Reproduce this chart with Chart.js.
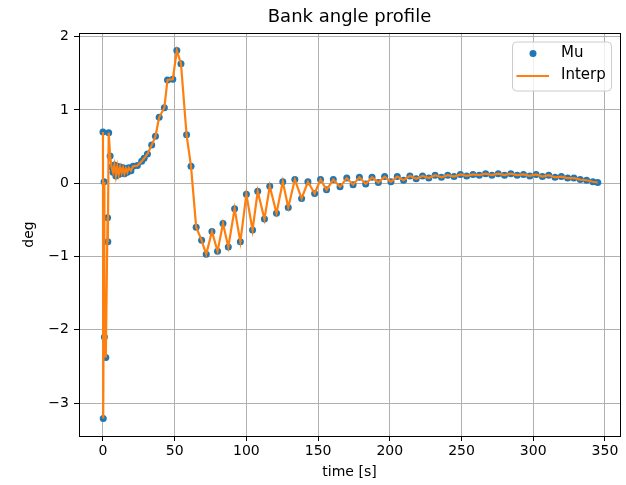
<!DOCTYPE html>
<html><head><meta charset="utf-8">
<script src="https://cdn.jsdelivr.net/npm/chart.js@4/dist/chart.umd.min.js"></script>
<style>html,body{margin:0;padding:0;background:#fff}canvas{display:block}</style>
</head><body>
<canvas id="c" width="626" height="485"></canvas>
<script>
const timeS = [0, 0.2, 0.8, 1.0, 2.0, 3.2, 3.4, 4.0, 5.0, 6, 7, 8, 9, 10, 11, 12, 13, 14, 15, 16, 17, 18, 19.5, 21, 24, 27, 28.7, 31, 34, 36.6, 39.2, 42.8, 45, 48.7, 51.5, 54.4, 58.3, 61.4, 65, 68.8, 72, 76, 79.9, 83.7, 87.4, 91.8, 95.8, 100, 104.3, 107.9, 112.6, 116.3, 121, 125.4, 129.2, 133.8, 138.5, 142.9, 147.6, 151.7, 155.9, 160.6, 165.3, 170, 174.4, 178.8, 183.2, 187.6, 192, 196.4, 200.8, 205.2, 209.6, 214, 218.4, 222.8, 227.2, 231.6, 236, 240.4, 244.8, 249.2, 253.6, 258, 262.4, 266.8, 271.2, 275.6, 280, 284.4, 288.8, 293.2, 297.6, 302, 306.4, 310.8, 315.2, 319.6, 324, 328.4, 332.8, 337.2, 341.6, 345];
const muDeg = [0.70, -3.21, 0.02, -2.10, -2.38, -0.47, -0.80, 0.69, 0.37, 0.22, 0.15, 0.25, 0.10, 0.23, 0.12, 0.22, 0.14, 0.21, 0.13, 0.20, 0.15, 0.21, 0.17, 0.23, 0.24, 0.30, 0.34, 0.40, 0.52, 0.64, 0.90, 1.03, 1.41, 1.42, 1.81, 1.63, 0.66, 0.23, -0.60, -0.78, -0.97, -0.66, -0.93, -0.55, -0.87, -0.35, -0.80, -0.15, -0.64, -0.11, -0.49, -0.04, -0.41, 0.02, -0.33, 0.05, -0.21, 0.02, -0.14, 0.05, -0.09, 0.05, -0.05, 0.07, -0.02, 0.08, -0.01, 0.08, 0.01, 0.09, 0.02, 0.09, 0.04, 0.10, 0.06, 0.10, 0.07, 0.11, 0.08, 0.11, 0.09, 0.12, 0.10, 0.12, 0.11, 0.13, 0.11, 0.13, 0.11, 0.13, 0.11, 0.12, 0.10, 0.12, 0.09, 0.11, 0.08, 0.09, 0.07, 0.07, 0.05, 0.04, 0.02, 0.01];
const xTicks = [0, 50, 100, 150, 200, 250, 300, 350];
const yTicks = [-3, -2, -1, 0, 1, 2];
const seriesNames = ['Mu', 'Interp'];
const titleText = 'Bank angle profile';
const xLabel = 'time [s]';
const yLabel = 'deg';

const FONT = 'DejaVu Sans';
const BLUE = '#1f77b4', ORANGE = '#ff7f0e';
const pts = timeS.map((t, i) => ({x: t, y: muDeg[i]}));
const fmt = v => String(v).replace('-', '\u2212');

const decor = {
  id: 'decor',
  afterDatasetsDraw(chart) {
    const {ctx, chartArea: a} = chart;
    ctx.save();
    ctx.strokeStyle = '#000'; ctx.lineWidth = 1;
    ctx.strokeRect(Math.round(a.left) + 0.5, Math.round(a.top) + 0.5, Math.round(a.right - a.left), Math.round(a.bottom - a.top));
    // title
    ctx.fillStyle = '#000';
    ctx.font = '18px "' + FONT + '"';
    ctx.textAlign = 'center'; ctx.textBaseline = 'middle';
    ctx.fillText(titleText, (a.left + a.right) / 2, 17);
    // legend
    const bx = a.right - 108, by = a.top + 8.5, bw = 99, bh = 49;
    ctx.beginPath();
    ctx.roundRect(bx + 0.5, by + 0.5, bw, bh, 4);
    ctx.fillStyle = 'rgba(255,255,255,0.8)'; ctx.fill();
    ctx.strokeStyle = '#cccccc'; ctx.stroke();
    ctx.fillStyle = BLUE;
    ctx.beginPath(); ctx.arc(bx + 21, by + 12, 3.5, 0, Math.PI * 2); ctx.fill();
    ctx.strokeStyle = ORANGE; ctx.lineWidth = 2;
    ctx.beginPath(); ctx.moveTo(bx + 4.5, by + 34.5); ctx.lineTo(bx + 37, by + 34.5); ctx.stroke();
    ctx.fillStyle = '#000';
    ctx.font = '15px "' + FONT + '"';
    ctx.textAlign = 'left'; ctx.textBaseline = 'middle';
    ctx.fillText(seriesNames[0], bx + 49, by + 12);
    ctx.fillText(seriesNames[1], bx + 49, by + 34);
    ctx.restore();
  }
};

const tickFont = {family: FONT, size: 14};
new Chart(document.getElementById('c'), {
  type: 'scatter',
  data: {
    datasets: [
      {label: seriesNames[0], data: pts, showLine: false, pointRadius: 3.5, pointBackgroundColor: BLUE, pointBorderWidth: 0, order: 2},
      {label: seriesNames[1], data: pts, showLine: true, borderColor: ORANGE, borderWidth: 2.2, pointRadius: 0, tension: 0, order: 1}
    ]
  },
  options: {
    responsive: false, animation: false, devicePixelRatio: 1,
    layout: {padding: {left: 0, top: 33, right: 6, bottom: 0}},
    plugins: {legend: {display: false}, tooltip: {enabled: false}, title: {display: false}},
    scales: {
      x: {
        type: 'linear', min: -16.7, max: 360.5,
        afterBuildTicks: s => { s.ticks = xTicks.map(v => ({value: v})); },
        afterFit: s => { s.height = 49; },
        grid: {color: '#b0b0b0', lineWidth: 1, tickLength: 5, tickColor: '#000'},
        border: {display: true, color: '#000', width: 1},
        ticks: {color: '#000', font: tickFont, padding: 2, maxRotation: 0, autoSkip: false, callback: v => fmt(v)},
        title: {display: true, text: xLabel, color: '#000', font: tickFont, padding: {top: 0, bottom: 4}}
      },
      y: {
        type: 'linear', min: -3.45, max: 2.05,
        afterBuildTicks: s => { s.ticks = yTicks.map(v => ({value: v})); },
        afterFit: s => { s.width = 79; },
        grid: {color: '#b0b0b0', lineWidth: 1, tickLength: 5, tickColor: '#000'},
        border: {display: true, color: '#000', width: 1},
        ticks: {color: '#000', font: tickFont, padding: 5, autoSkip: false, callback: v => fmt(v)},
        title: {display: true, text: yLabel, color: '#000', font: tickFont, padding: {top: 21, bottom: 0}}
      }
    }
  },
  plugins: [decor]
});
</script>
</body></html>
